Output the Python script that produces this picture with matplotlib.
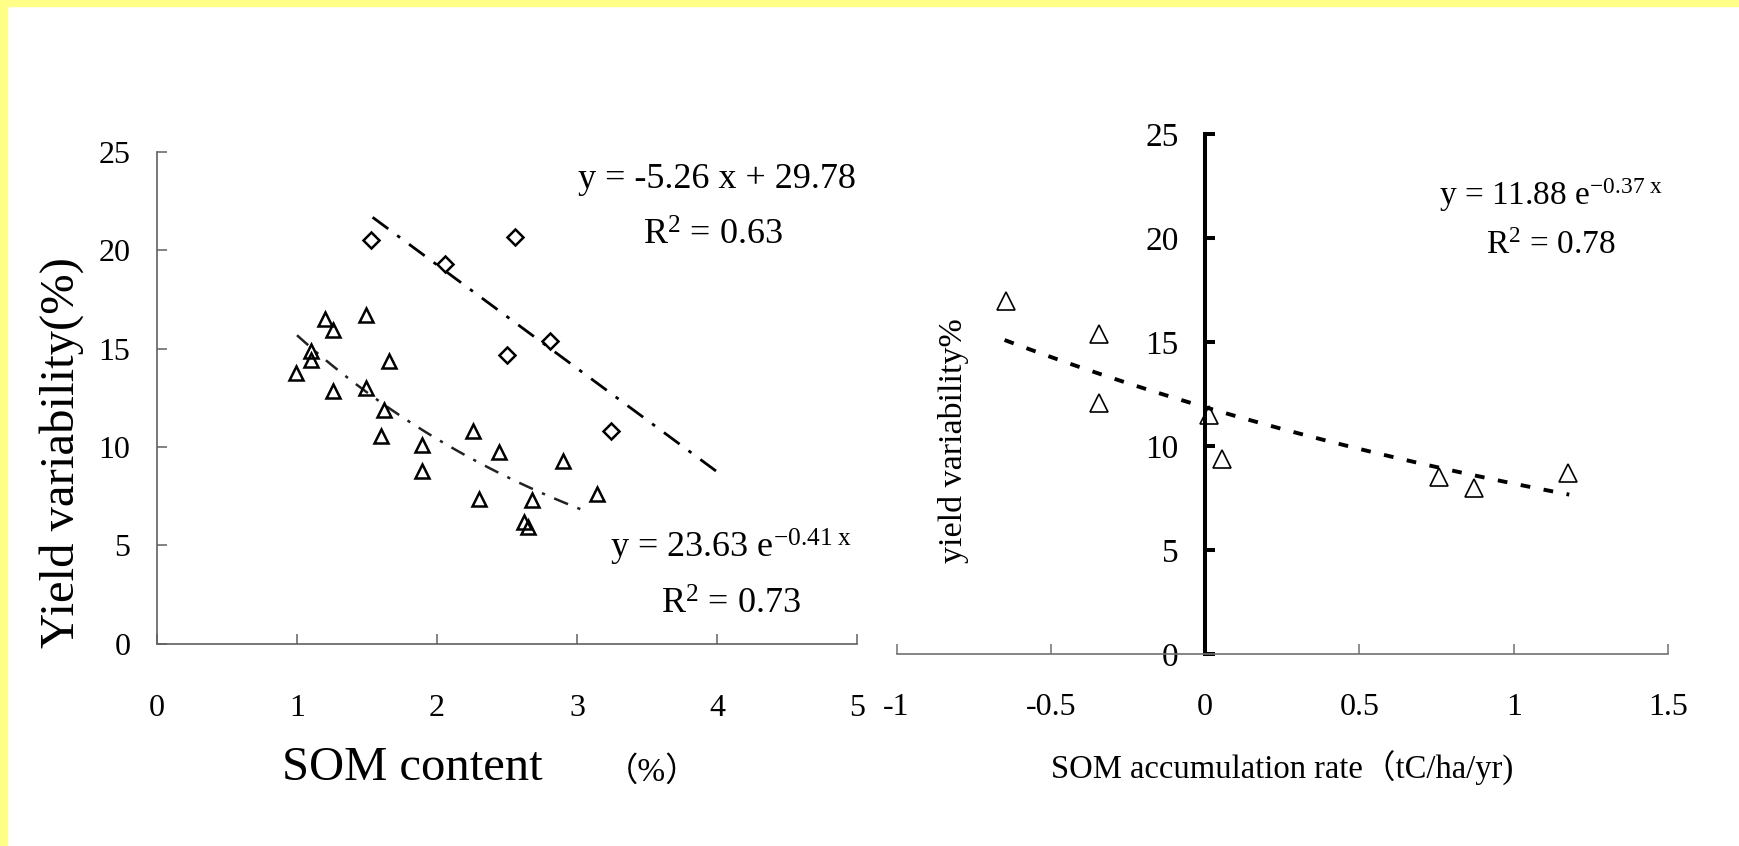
import numpy as np
import matplotlib
matplotlib.use("Agg")
import matplotlib.pyplot as plt
from matplotlib.patches import Rectangle

plt.rcParams["font.family"] = ["Liberation Serif", "Noto Sans CJK SC", "DejaVu Sans"]
plt.rcParams["mathtext.fontset"] = "custom"
plt.rcParams["mathtext.rm"] = "Liberation Serif"
plt.rcParams["mathtext.it"] = "Liberation Serif:italic"
plt.rcParams["mathtext.default"] = "regular"

# left panel: SOM content vs yield variability
som_diamond = [1.53, 2.06, 2.56, 2.50, 2.81, 3.24]
yv_diamond = [20.5, 19.3, 20.7, 14.7, 15.4, 10.8]
som_tri = [0.99, 1.10, 1.10, 1.20, 1.26, 1.26, 1.49, 1.49, 1.66, 1.62, 1.60,
           1.89, 1.89, 2.26, 2.44, 2.30, 2.68, 2.62, 2.65, 2.90, 3.14]
yv_tri = [13.75, 14.9, 14.4, 16.5, 15.95, 12.85, 16.7, 13.0, 14.35, 11.9, 10.55,
          10.1, 8.8, 10.8, 9.75, 7.35, 7.3, 6.2, 5.95, 9.3, 7.6]
lin_slope, lin_icpt = -5.26, 29.78
lin_range = [1.54, 4.02]
exp1_a, exp1_b = 23.63, -0.41
exp1_range = [1.0, 3.08]

# right panel: SOM accumulation rate vs yield variability
rate = [-0.645, -0.343, -0.343, 0.013, 0.055, 0.758, 0.870, 1.176]
yv_rate = [17.0, 15.4, 12.1, 11.5, 9.4, 8.5, 8.0, 8.7]
exp2_a, exp2_b = 11.88, -0.37
exp2_range = [-0.65, 1.18]

W, H = 1740, 846
fig = plt.figure(figsize=(W / 100, H / 100), dpi=100)
fig.patches.append(Rectangle((0, 1 - 6 / H), 1, 6 / H, transform=fig.transFigure,
                             color="#ffff88", zorder=-1))
fig.patches.append(Rectangle((0, 0), 7 / W, 1, transform=fig.transFigure,
                             color="#ffff88", zorder=-1))


def fig_box(x0, x1, y_bottom, y_top):
    return [x0 / W, 1 - y_bottom / H, (x1 - x0) / W, (y_bottom - y_top) / H]


# ---- left panel ----
ax1 = fig.add_axes(fig_box(157, 857, 643.6, 152))
ax1.set_xlim(0, 5)
ax1.set_ylim(0, 25)
for s in ["top", "right"]:
    ax1.spines[s].set_visible(False)
for s in ["left", "bottom"]:
    ax1.spines[s].set_color("#606060")
    ax1.spines[s].set_linewidth(1.2)
ax1.set_xticks(range(0, 6))
ax1.set_yticks(range(0, 26, 5))
ax1.tick_params(axis="both", direction="in", length=7, width=1.1, color="#606060")
ax1.tick_params(axis="y", labelsize=23, pad=19)
ax1.tick_params(axis="x", labelsize=23, pad=36)

xl = np.linspace(lin_range[0], lin_range[1], 50)
ax1.plot(xl, lin_slope * xl + lin_icpt, color="black", lw=2.0,
         linestyle=(0, (7, 4, 1.3, 4)))
xe = np.linspace(exp1_range[0], exp1_range[1], 80)
ax1.plot(xe, exp1_a * np.exp(exp1_b * xe), color="#222222", lw=1.8,
         linestyle=(0, (6, 4, 1.3, 4)))
ax1.plot(som_diamond, yv_diamond, linestyle="none", marker="D", ms=8.3,
         mfc="none", mec="black", mew=1.8, zorder=5)
ax1.plot(som_tri, yv_tri, linestyle="none", marker="^", ms=10,
         mfc="none", mec="black", mew=1.8, zorder=5)

ax1.text(4.0, 23.15, "y = -5.26 x + 29.78", fontsize=26, ha="center", va="baseline")
ax1.text(3.97, 20.27, "R$^{2}$ = 0.63", fontsize=26, ha="center", va="baseline")
ax1.text(4.10, 4.35, "y = 23.63 e$^{-0.41\\ x}$", fontsize=26, ha="center", va="baseline")
ax1.text(4.10, 1.53, "R$^{2}$ = 0.73", fontsize=26, ha="center", va="baseline")

fig.text(61.7 / W, 1 - 453 / H, "Yield variability(%)", fontsize=35, rotation=90,
         ha="center", va="center")
fig.text(412 / W, 1 - 768 / H, "SOM content", fontsize=35, ha="center", va="center")
fig.text(652 / W, 1 - 772 / H, "（%）", fontsize=24, ha="center", va="center")

# ---- right panel ----
ax2 = fig.add_axes(fig_box(896.6, 1668, 654.3, 134.3))
ax2.set_xlim(-1, 1.5)
ax2.set_ylim(0, 25)
for s in ["top", "right"]:
    ax2.spines[s].set_visible(False)
ax2.spines["left"].set_position(("data", 0))
ax2.spines["left"].set_color("black")
ax2.spines["left"].set_linewidth(2.9)
ax2.spines["bottom"].set_color("#707070")
ax2.spines["bottom"].set_linewidth(1.2)
ax2.set_xticks([-1, -0.5, 0, 0.5, 1, 1.5])
ax2.set_xticklabels(["-1", "-0.5", "0", "0.5", "1", "1.5"])
ax2.set_yticks(range(0, 26, 5))
ax2.tick_params(axis="x", direction="in", length=7, width=1.1, color="#707070",
                labelsize=23, pad=28)
ax2.tick_params(axis="y", direction="in", length=7, width=2.9, color="black",
                labelsize=24, pad=19)

xr = np.linspace(exp2_range[0], exp2_range[1], 80)
ax2.plot(xr, exp2_a * np.exp(exp2_b * xr), color="black", lw=2.8,
         linestyle=(0, (2.5, 3.5)))
ax2.plot(rate, yv_rate, linestyle="none", marker="^", ms=13.5,
         mfc="none", mec="black", mew=1.2, zorder=5)

ax2.text(1.12, 21.58, "y = 11.88 e$^{-0.37\\ x}$", fontsize=24, ha="center", va="baseline")
ax2.text(1.12, 19.24, "R$^{2}$ = 0.78", fontsize=24, ha="center", va="baseline")

fig.text(954 / W, 1 - 441 / H, "yield variability%", fontsize=24.5, rotation=90,
         ha="center", va="center")
fig.text(1282 / W, 1 - 768 / H, "SOM accumulation rate（tC/ha/yr)", fontsize=23.5,
         ha="center", va="center")

fig.savefig("out.png", dpi=100, facecolor="white")
